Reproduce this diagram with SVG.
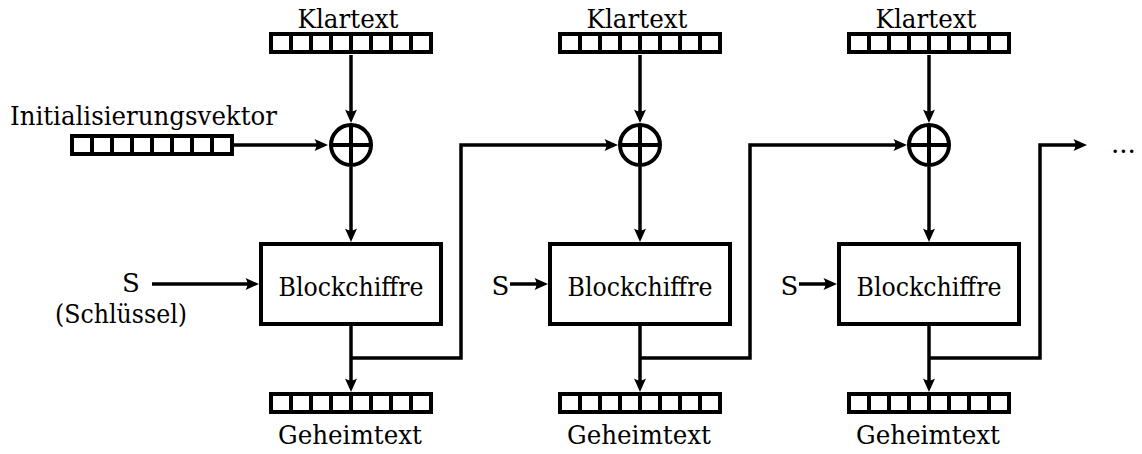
<svg xmlns="http://www.w3.org/2000/svg" xmlns:xlink="http://www.w3.org/1999/xlink" width="1142" height="454" viewBox="0 0 1142 454">
  <style>
    text { font-family: "DejaVu Serif", "Liberation Serif", "Noto Serif", "Times New Roman", serif; font-size: 26px; fill: #000; }
    .mid { text-anchor: middle; }
    .box { fill: #fff; stroke: #000; stroke-width: 4; }
    .wire { fill: none; stroke: #000; stroke-width: 3.5; }
    .thick { fill: none; stroke: #000; stroke-width: 4; }
  </style>
  <defs>
    <marker id="arrow" viewBox="0 0 14 14" refX="10" refY="7" markerWidth="14" markerHeight="14" markerUnits="userSpaceOnUse" orient="auto">
      <path d="M0.5,1 L14,7 L0.5,13 Q4.5,7 0.5,1 Z" fill="#000"/>
    </marker>
    <!-- 8-cell register -->
    <g id="reg">
      <rect x="0" y="0" width="160" height="18" class="box"/>
      <path d="M20,0V18M40,0V18M60,0V18M80,0V18M100,0V18M120,0V18M140,0V18" class="thick"/>
    </g>
    <!-- XOR symbol -->
    <g id="xor">
      <circle cx="0" cy="0" r="20" class="box"/>
      <path d="M-20,0H20M0,-20V20" class="thick"/>
    </g>
  </defs>

  <rect width="1142" height="454" fill="#fff"/>

  <!-- connectors -->
  <g id="connectors" class="wire">
    <!-- column 1 -->
    <path d="M232,145H324" marker-end="url(#arrow)"/>
    <path d="M351,55V119" marker-end="url(#arrow)"/>
    <path d="M351,167V238" marker-end="url(#arrow)"/>
    <path d="M351,326V388" marker-end="url(#arrow)"/>
    <path d="M152,284H255" marker-end="url(#arrow)"/>
    <path d="M351,358H461V145H614" marker-end="url(#arrow)"/>
    <!-- column 2 -->
    <path d="M640,55V119" marker-end="url(#arrow)"/>
    <path d="M640,167V238" marker-end="url(#arrow)"/>
    <path d="M640,326V388" marker-end="url(#arrow)"/>
    <path d="M510,284H544" marker-end="url(#arrow)"/>
    <path d="M640,358H750V145H903" marker-end="url(#arrow)"/>
    <!-- column 3 -->
    <path d="M929,55V119" marker-end="url(#arrow)"/>
    <path d="M929,167V238" marker-end="url(#arrow)"/>
    <path d="M929,326V388" marker-end="url(#arrow)"/>
    <path d="M799,284H833" marker-end="url(#arrow)"/>
    <path d="M929,358H1040V145H1083" marker-end="url(#arrow)"/>
  </g>

  <!-- initialisation vector -->
  <g id="iv">
    <text x="143.5" y="125" class="mid" textLength="267" lengthAdjust="spacingAndGlyphs">Initialisierungsvektor</text>
    <use xlink:href="#reg" x="72" y="136"/>
  </g>

  <!-- key input, column 1 -->
  <g id="key1">
    <text x="131" y="292" class="mid">S</text>
    <text x="121" y="323" class="mid" textLength="132" lengthAdjust="spacingAndGlyphs">(Schlüssel)</text>
  </g>
  <g id="key2"><text x="500.5" y="295" class="mid">S</text></g>
  <g id="key3"><text x="789.5" y="295" class="mid">S</text></g>

  <!-- column 1 -->
  <g id="plain1">
    <text x="348" y="28" class="mid" textLength="101" lengthAdjust="spacingAndGlyphs">Klartext</text>
    <use xlink:href="#reg" x="271" y="34"/>
  </g>
  <g id="xor1"><use xlink:href="#xor" x="351" y="145"/></g>
  <g id="cipher1">
    <rect x="261" y="244" width="180" height="80" class="box"/>
    <text x="351" y="296" class="mid" textLength="145" lengthAdjust="spacingAndGlyphs">Blockchiffre</text>
  </g>
  <g id="out1">
    <use xlink:href="#reg" x="271" y="394"/>
    <text x="350" y="444" class="mid" textLength="144" lengthAdjust="spacingAndGlyphs">Geheimtext</text>
  </g>

  <!-- column 2 -->
  <g id="plain2">
    <text x="637" y="28" class="mid" textLength="101" lengthAdjust="spacingAndGlyphs">Klartext</text>
    <use xlink:href="#reg" x="560" y="34"/>
  </g>
  <g id="xor2"><use xlink:href="#xor" x="640" y="145"/></g>
  <g id="cipher2">
    <rect x="550" y="244" width="180" height="80" class="box"/>
    <text x="640" y="296" class="mid" textLength="145" lengthAdjust="spacingAndGlyphs">Blockchiffre</text>
  </g>
  <g id="out2">
    <use xlink:href="#reg" x="560" y="394"/>
    <text x="639" y="444" class="mid" textLength="144" lengthAdjust="spacingAndGlyphs">Geheimtext</text>
  </g>

  <!-- column 3 -->
  <g id="plain3">
    <text x="926" y="28" class="mid" textLength="101" lengthAdjust="spacingAndGlyphs">Klartext</text>
    <use xlink:href="#reg" x="849" y="34"/>
  </g>
  <g id="xor3"><use xlink:href="#xor" x="929" y="145"/></g>
  <g id="cipher3">
    <rect x="839" y="244" width="180" height="80" class="box"/>
    <text x="929" y="296" class="mid" textLength="145" lengthAdjust="spacingAndGlyphs">Blockchiffre</text>
  </g>
  <g id="out3">
    <use xlink:href="#reg" x="849" y="394"/>
    <text x="928" y="444" class="mid" textLength="144" lengthAdjust="spacingAndGlyphs">Geheimtext</text>
  </g>

  <!-- continuation -->
  <g id="more"><text x="1111" y="153">...</text></g>
</svg>
